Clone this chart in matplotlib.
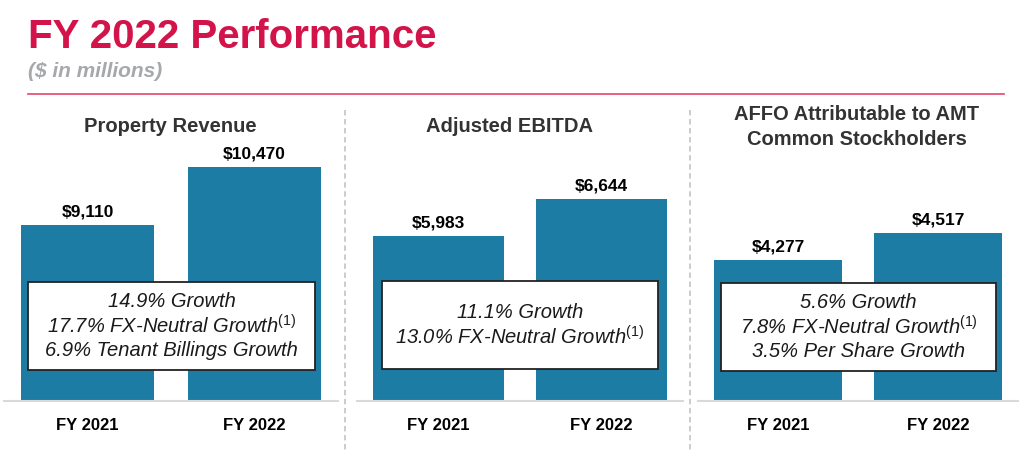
import matplotlib
matplotlib.use("Agg")
import matplotlib.pyplot as plt
from matplotlib.lines import Line2D
from matplotlib.patches import Rectangle

plt.rcParams['font.family'] = ['Liberation Sans', 'DejaVu Sans']
plt.rcParams['mathtext.fontset'] = 'custom'
plt.rcParams['mathtext.rm'] = 'Liberation Sans'
plt.rcParams['mathtext.it'] = 'Liberation Sans:italic'

# --- data ---
years = ['FY 2021', 'FY 2022']
panel_titles = ['Property Revenue', 'Adjusted EBITDA',
                'AFFO Attributable to AMT\nCommon Stockholders']
revenue = [9110, 10470]
ebitda = [5983, 6644]
affo = [4277, 4517]
revenue_notes = ['14.9% Growth', '17.7% FX-Neutral Growth$^{\\mathrm{(1)}}$',
                 '6.9% Tenant Billings Growth']
ebitda_notes = ['11.1% Growth', '13.0% FX-Neutral Growth$^{\\mathrm{(1)}}$']
affo_notes = ['5.6% Growth', '7.8% FX-Neutral Growth$^{\\mathrm{(1)}}$',
              '3.5% Per Share Growth']

series = [revenue, ebitda, affo]
notes = [revenue_notes, ebitda_notes, affo_notes]
y_floor = [5000, 3000, 3000]
y_top = [12040, 8440, 5725]

BAR = '#1c7ca3'
RED = '#d2144a'
W, H = 1024, 453

fig = plt.figure(figsize=(W / 100, H / 100), dpi=100)
fig.patch.set_facecolor('white')

def fx(px):
    return px / W

def fy(py):
    return 1 - py / H

# header
fig.text(fx(28), fy(48), 'FY 2022 Performance', fontsize=29, fontweight='bold',
         color=RED, va='baseline', ha='left')
fig.text(fx(28), fy(77), '($ in millions)', fontsize=15, fontweight='bold',
         style='italic', color='#a6a8ab', va='baseline', ha='left')
fig.add_artist(Line2D([fx(28), fx(1004)], [fy(94), fy(94)], color='#e3476b',
                      lw=1.2, transform=fig.transFigure))

# dashed separators
for xs in [345, 690]:
    fig.add_artist(Line2D([fx(xs), fx(xs)], [fy(110), 0], color='#c8c8c8',
                          lw=1.3, ls=(0, (3, 2)), transform=fig.transFigure))

# panel layout (pixels): axes left/right, box left/top/right/bottom, title center
ax_lr = [(4, 338), (357, 683), (698, 1018)]
boxes = [(28, 282, 315, 370), (382, 281, 658, 369), (721, 283, 996, 371)]
title_xy = [(170, 127), (510, 127), (857, 127)]

for i in range(3):
    l, r = ax_lr[i]
    ax = fig.add_axes([fx(l), fy(401), fx(r - l), (401 - 100) / H])
    vals = series[i]
    bars = ax.bar(range(len(years)), vals, width=0.8, color=BAR, zorder=2)
    ax.set_xlim(-0.5, 1.5)
    ax.set_ylim(y_floor[i], y_top[i])
    for b, v in zip(bars, vals):
        ax.annotate(f'${v:,}', (b.get_x() + b.get_width() / 2, v),
                    xytext=(0, 4), textcoords='offset points', ha='center',
                    va='bottom', fontsize=12.5, fontweight='bold', color='black')
    ax.set_xticks(range(len(years)))
    ax.set_xticklabels(years, fontsize=12, fontweight='bold', color='black')
    ax.tick_params(axis='x', length=0, pad=12)
    ax.set_yticks([])
    for s in ['top', 'left', 'right']:
        ax.spines[s].set_visible(False)
    ax.spines['bottom'].set_color('#d9d9d9')
    ax.spines['bottom'].set_linewidth(1.5)
    ax.patch.set_alpha(0)

    tx, ty = title_xy[i]
    fig.text(fx(tx), fy(ty), panel_titles[i], fontsize=14.5, fontweight='bold',
             color='#333333', ha='center', va='center', linespacing=1.35)

    bl, bt, br, bb = boxes[i]
    fig.add_artist(Rectangle((fx(bl), fy(bb)), fx(br - bl), (bb - bt) / H,
                             facecolor='white', edgecolor='#222222', lw=1.3,
                             transform=fig.transFigure, zorder=5))
    cx, cy = (bl + br) / 2, (bt + bb) / 2
    n = len(notes[i])
    for j, line in enumerate(notes[i]):
        yy = cy + (j - (n - 1) / 2) * 24.5
        fig.text(fx(cx), fy(yy), line, fontsize=14.5, style='italic',
                 color='#1a1a1a', ha='center', va='center', zorder=6)

fig.savefig('out.png', dpi=100, facecolor='white')
